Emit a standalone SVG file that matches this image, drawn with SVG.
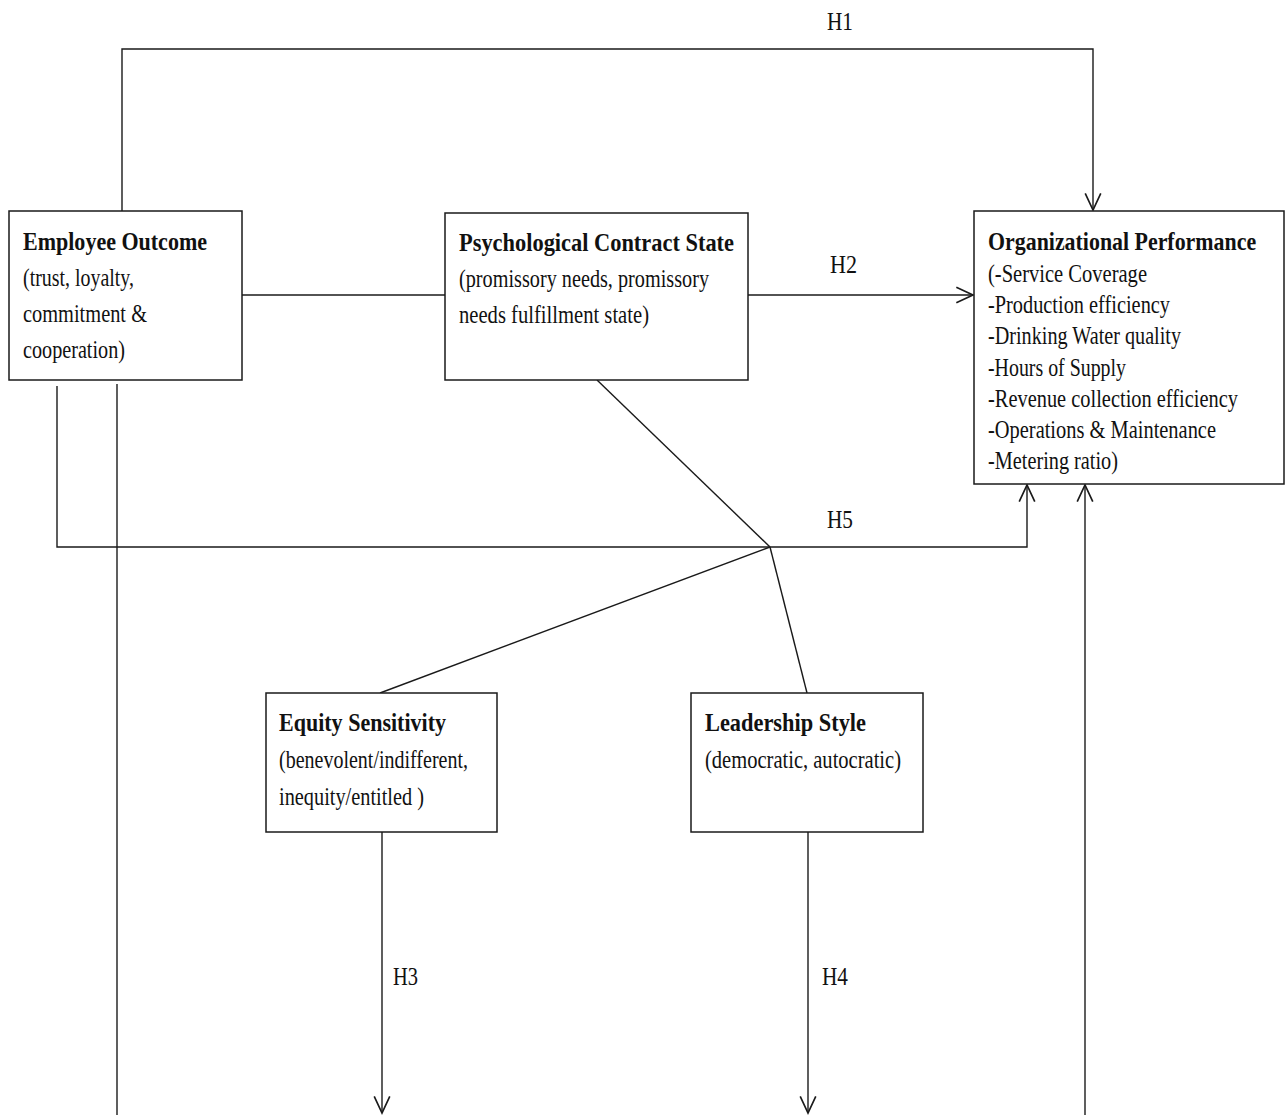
<svg xmlns="http://www.w3.org/2000/svg" width="1285" height="1115" viewBox="0 0 1285 1115">
  <style>
    .box { fill: #ffffff; stroke: #1a1a1a; stroke-width: 1.5; }
    .ln { fill: none; stroke: #1a1a1a; stroke-width: 1.4; }
    .arr { marker-end: url(#vhead); }
    text { font-family: "Liberation Serif", "Times New Roman", serif; fill: #111111; }
    .t { font-weight: bold; font-size: 26px; }
    .b { font-size: 25px; }
    .lbl { font-size: 25px; }
  </style>
  <defs>
    <marker id="vhead" markerUnits="userSpaceOnUse" markerWidth="20" markerHeight="20" viewBox="-16 -9 18 18" refX="0" refY="0" orient="auto">
      <path d="M-15,-7 L0,0 L-15,7" fill="none" stroke="#1a1a1a" stroke-width="1.5"/>
    </marker>
  </defs>
  <rect width="1285" height="1115" fill="#ffffff"/>

  <g id="connectors">
    <!-- H1 -->
    <polyline class="ln arr" points="122,211 122,49 1093,49 1093,210"/>
    <!-- Employee Outcome to Psychological Contract State -->
    <line class="ln" x1="242" y1="295" x2="445" y2="295"/>
    <!-- H2 -->
    <line class="ln arr" x1="748" y1="295" x2="973" y2="295"/>
    <!-- moderators meeting point -->
    <line class="ln" x1="597" y1="380" x2="770" y2="547"/>
    <line class="ln" x1="770" y1="547" x2="380" y2="693"/>
    <line class="ln" x1="770" y1="547" x2="807" y2="693"/>
    <!-- H5 -->
    <polyline class="ln arr" points="57,386 57,547 1027,547 1027,485"/>
    <!-- left vertical to bottom -->
    <line class="ln" x1="117" y1="384" x2="117" y2="1115"/>
    <!-- H3 -->
    <line class="ln arr" x1="382" y1="832" x2="382" y2="1113"/>
    <!-- H4 -->
    <line class="ln arr" x1="808" y1="832" x2="808" y2="1113"/>
    <!-- from bottom up to Organizational Performance -->
    <line class="ln arr" x1="1085" y1="1115" x2="1085" y2="485"/>

    <text class="lbl" x="827" y="30" textLength="26" lengthAdjust="spacingAndGlyphs">H1</text>
    <text class="lbl" x="830" y="273" textLength="27" lengthAdjust="spacingAndGlyphs">H2</text>
    <text class="lbl" x="827" y="528" textLength="26" lengthAdjust="spacingAndGlyphs">H5</text>
    <text class="lbl" x="393" y="985" textLength="25" lengthAdjust="spacingAndGlyphs">H3</text>
    <text class="lbl" x="822" y="985" textLength="26" lengthAdjust="spacingAndGlyphs">H4</text>
  </g>

  <g id="employee-outcome">
    <rect class="box" x="9" y="211" width="233" height="169"/>
    <text class="t" x="23" y="250" textLength="184" lengthAdjust="spacingAndGlyphs">Employee Outcome</text>
    <text class="b" x="23" y="286" textLength="111" lengthAdjust="spacingAndGlyphs">(trust, loyalty,</text>
    <text class="b" x="23" y="322" textLength="124" lengthAdjust="spacingAndGlyphs">commitment &amp;</text>
    <text class="b" x="23" y="358" textLength="102" lengthAdjust="spacingAndGlyphs">cooperation)</text>
  </g>

  <g id="psychological-contract">
    <rect class="box" x="445" y="213" width="303" height="167"/>
    <text class="t" x="459" y="251" textLength="275" lengthAdjust="spacingAndGlyphs">Psychological Contract State</text>
    <text class="b" x="459" y="287" textLength="250" lengthAdjust="spacingAndGlyphs">(promissory needs, promissory</text>
    <text class="b" x="459" y="323" textLength="190" lengthAdjust="spacingAndGlyphs">needs fulfillment  state)</text>
  </g>

  <g id="organizational-performance">
    <rect class="box" x="974" y="211" width="310" height="273"/>
    <!-- long lines are narrowed by a horizontal scale so they stay inside the box -->
    <text class="t" transform="matrix(0.825,0,0,1,988,250)" x="0" y="0" textLength="325" lengthAdjust="spacingAndGlyphs">Organizational  Performance</text>
    <text class="b" x="988" y="282" textLength="159" lengthAdjust="spacingAndGlyphs">(-Service Coverage</text>
    <text class="b" x="988" y="313" textLength="182" lengthAdjust="spacingAndGlyphs">-Production efficiency</text>
    <text class="b" x="988" y="344" textLength="193" lengthAdjust="spacingAndGlyphs">-Drinking  Water quality</text>
    <text class="b" x="988" y="376" textLength="138" lengthAdjust="spacingAndGlyphs">-Hours of Supply</text>
    <text class="b" transform="matrix(0.8,0,0,1,988,407)" x="0" y="0" textLength="312.5" lengthAdjust="spacingAndGlyphs">-Revenue collection  efficiency</text>
    <text class="b" x="988" y="438" textLength="228" lengthAdjust="spacingAndGlyphs">-Operations &amp; Maintenance</text>
    <text class="b" x="988" y="469" textLength="130" lengthAdjust="spacingAndGlyphs">-Metering ratio)</text>
  </g>

  <g id="equity-sensitivity">
    <rect class="box" x="266" y="693" width="231" height="139"/>
    <text class="t" x="279" y="731" textLength="167" lengthAdjust="spacingAndGlyphs">Equity  Sensitivity</text>
    <text class="b" x="279" y="768" textLength="189" lengthAdjust="spacingAndGlyphs">(benevolent/indifferent,</text>
    <text class="b" x="279" y="805" textLength="145" lengthAdjust="spacingAndGlyphs">inequity/entitled  )</text>
  </g>

  <g id="leadership-style">
    <rect class="box" x="691" y="693" width="232" height="139"/>
    <text class="t" x="705" y="731" textLength="161" lengthAdjust="spacingAndGlyphs">Leadership Style</text>
    <text class="b" x="705" y="768" textLength="196" lengthAdjust="spacingAndGlyphs">(democratic, autocratic)</text>
  </g>
</svg>
